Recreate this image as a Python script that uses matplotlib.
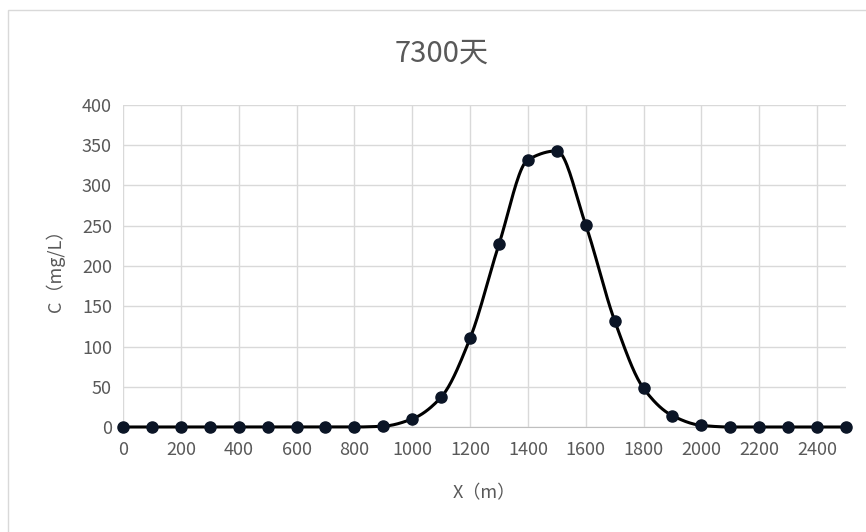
import numpy as np
import matplotlib.pyplot as plt
from matplotlib.patches import Rectangle

plt.rcParams['font.family'] = ['Noto Sans CJK SC', 'DejaVu Sans']

# data
x_m = [0, 100, 200, 300, 400, 500, 600, 700, 800, 900, 1000, 1100, 1200,
       1300, 1400, 1500, 1600, 1700, 1800, 1900, 2000, 2100, 2200, 2300,
       2400, 2500]
c_mgl = [0, 0, 0, 0, 0, 0, 0, 0, 0, 1, 10, 37, 110, 227, 332, 343, 251,
         132, 48, 14, 2, 0, 0, 0, 0, 0]
x_ticks = list(range(0, 2401, 200))
y_ticks = list(range(0, 401, 50))
title = '7300天'
xlabel = 'X（m）'
ylabel = 'C（mg/L）'

gray = '#595959'


def smooth(xs, ys, n=20):
    # monotone cubic (pchip) so the curve doesn't overshoot
    xs = np.asarray(xs, float)
    ys = np.asarray(ys, float)
    h = np.diff(xs)
    d = np.diff(ys) / h
    m = np.zeros_like(ys)
    for i in range(1, len(ys) - 1):
        if d[i - 1] * d[i] > 0:
            w1 = 2 * h[i] + h[i - 1]
            w2 = h[i] + 2 * h[i - 1]
            m[i] = (w1 + w2) / (w1 / d[i - 1] + w2 / d[i])
    m[0] = d[0]
    m[-1] = d[-1]
    ox, oy = [], []
    t = np.linspace(0, 1, n, endpoint=False)
    for i in range(len(xs) - 1):
        h00 = 2 * t ** 3 - 3 * t ** 2 + 1
        h10 = t ** 3 - 2 * t ** 2 + t
        h01 = -2 * t ** 3 + 3 * t ** 2
        h11 = t ** 3 - t ** 2
        ox.extend(xs[i] + t * h[i])
        oy.extend(h00 * ys[i] + h10 * h[i] * m[i] + h01 * ys[i + 1]
                  + h11 * h[i] * m[i + 1])
    ox.append(xs[-1])
    oy.append(ys[-1])
    return np.array(ox), np.array(oy)


fig = plt.figure(figsize=(8.66, 5.32), dpi=100)
fig.patches.append(Rectangle((8 / 866, -0.1), 1.2, 1 - 10 / 532 + 0.1,
                             transform=fig.transFigure, fill=False,
                             edgecolor='#d9d9d9', linewidth=1))

ax = fig.add_axes([123 / 866, 1 - 427 / 532, (846 - 123) / 866, (427 - 105) / 532])
sx, sy = smooth(x_m, c_mgl)
ax.plot(sx, sy, color='black', linewidth=2.2, zorder=3, clip_on=False)
ax.plot(x_m, c_mgl, linestyle='none', marker='o', markersize=8,
        markerfacecolor='#0b1526', markeredgecolor='#0b1526', zorder=4,
        clip_on=False)

ax.set_xlim(0, 2500)
ax.set_ylim(0, 400)
ax.set_xticks(x_ticks)
ax.set_yticks(y_ticks)
ax.grid(True, color='#d9d9d9', linewidth=1)
ax.set_axisbelow(True)
for s in ['top', 'right', 'left']:
    ax.spines[s].set_visible(False)
ax.spines['bottom'].set_color('#bfbfbf')
ax.tick_params(axis='x', length=0, labelcolor=gray, labelsize=13, pad=10)
ax.tick_params(axis='y', length=0, labelcolor=gray, labelsize=13, pad=8)

ax.set_xlabel(xlabel, color=gray, fontsize=13, labelpad=18)
ax.set_ylabel(ylabel, color=gray, fontsize=13, labelpad=12)
fig.text(442 / 866, 1 - 54 / 532, title, color=gray, fontsize=21,
         ha='center', va='center')

fig.savefig('out.png', dpi=100)
